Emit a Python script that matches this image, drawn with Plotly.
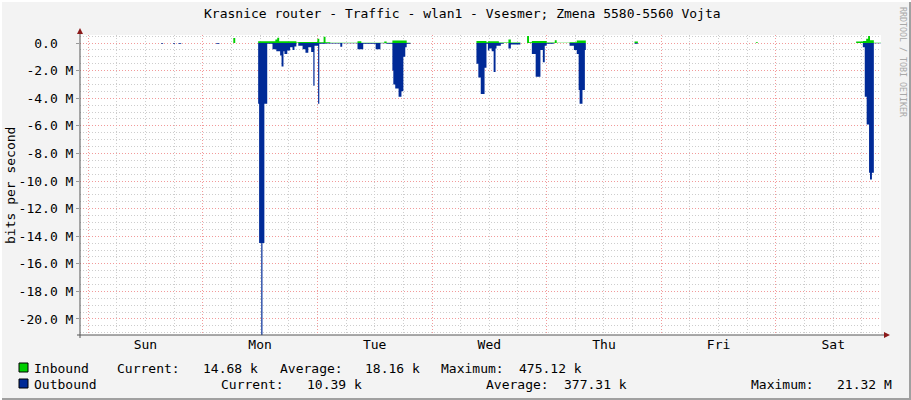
import plotly.graph_objects as go
import pandas as pd

# ---------------- data ----------------
BASE = pd.Timestamp("2024-01-07 00:00")  # a Sunday, 00:00
X_START_H = -1.7
X_END_H = 166.0

# Inbound, Mbit/s (step start times in hours since Sunday 00:00)
IN_T = [-1.7, 30.4, 30.8, 35.6, 39.2, 39.6, 40.0, 43.6, 44.0, 48.0, 48.4, 49.3, 49.7,
        50.7, 56.4, 57.2, 62.0, 62.5, 63.7, 66.7, 67.5, 81.3, 83.4, 83.7, 86.0, 88.0,
        88.5, 90.5, 91.9, 92.3, 92.9, 96.0, 97.7, 98.1, 100.8, 102.3, 104.2, 114.4,
        115.1, 139.8, 140.2, 160.8, 162.2, 162.9, 163.3, 163.7, 164.5, 166.0]
IN_V = [0.0, 0.36, 0.0, 0.12, 0.25, 0.38, 0.12, 0.03, 0.08, 0.30, 0.05, 0.45, 0.05,
        0.02, 0.12, 0.02, 0.10, 0.02, 0.18, 0.02, 0.0, 0.15, 0.05, 0.12, 0.03, 0.25,
        0.03, 0.0, 0.50, 0.05, 0.15, 0.03, 0.20, 0.02, 0.05, 0.18, 0.0, 0.10,
        0.0, 0.05, 0.0, 0.10, 0.15, 0.30, 0.50, 0.20, 0.0147, 0.0147]

# Outbound, Mbit/s (plotted below zero)
OUT_T = [-1.7, 15.3, 15.7, 17.8, 18.2, 18.9, 19.5, 26.8, 27.5,
         35.6, 35.8, 36.25, 36.5, 36.9, 37.5, 38.6, 39.4, 40.2, 40.5, 40.9, 41.1,
         41.7, 42.3, 42.8, 43.2, 43.6, 44.0, 44.9, 45.5, 46.1, 46.7, 47.15, 47.4,
         48.15, 48.4, 49.7, 52.8, 53.2, 56.4, 57.6, 60.2, 61.2, 62.5, 63.7, 63.9,
         64.3, 65.0, 65.6, 66.0, 66.4, 66.7, 67.5,
         81.3, 81.7, 82.2, 83.0, 83.4, 83.7, 84.0, 84.5, 84.9, 85.3, 85.5, 86.4,
         87.0, 88.0, 88.5, 90.5, 92.9, 93.7, 94.7, 95.2, 95.6, 96.0, 97.5,
         100.8, 101.7, 102.3, 102.7, 102.9, 103.5, 104.0, 104.2, 114.4, 115.1,
         162.2, 162.6, 163.0, 163.5, 163.7, 164.1, 164.5, 166.0]
OUT_V = [0.0, 0.06, 0.0, 0.05, 0.0, 0.06, 0.0, 0.06, 0.0,
         4.4, 14.5, 21.32, 14.5, 4.4, 0.05, 0.45, 0.6, 0.9, 1.7, 0.6, 0.8,
         0.55, 0.3, 0.5, 0.25, 0.0, 0.2, 0.45, 0.7, 0.3, 0.65, 3.1, 0.2,
         4.4, 0.05, 0.03, 0.27, 0.02, 0.45, 0.05, 0.45, 0.02, 0.05, 2.0, 3.0,
         3.3, 3.9, 3.5, 1.0, 0.3, 0.05, 0.0,
         1.5, 2.5, 3.7, 1.8, 0.05, 0.55, 0.4, 0.6, 2.1, 0.4, 0.2, 0.05,
         0.0, 0.4, 0.1, 0.0, 0.8, 2.45, 0.5, 1.4, 0.2, 0.05, 0.0,
         0.2, 0.5, 0.8, 3.4, 4.4, 3.4, 0.5, 0.0, 0.05, 0.0,
         0.3, 3.9, 5.9, 9.4, 9.9, 9.4, 0.0104, 0.0104]

DAY_FORMAT = "%a"
Y_TICK_VALS_M = [0, -2, -4, -6, -8, -10, -12, -14, -16, -18, -20]
Y_TICK_TEXT = ["0.0\u00a0\u00a0", "-2.0 M", "-4.0 M", "-6.0 M", "-8.0 M", "-10.0 M",
               "-12.0 M", "-14.0 M", "-16.0 M", "-18.0 M", "-20.0 M"]
Y_RANGE_M = [-21.16, 0.58]

TITLE = "Krasnice router - Traffic - wlan1 - Vsesmer; Zmena 5580-5560 Vojta"
Y_LABEL = "bits per second"
WATERMARK = "RRDTOOL / TOBI OETIKER"
SERIES_NAMES = ["Inbound", "Outbound"]
IN_STATS = ["14.68 k", "18.16 k", "475.12 k"]
OUT_STATS = ["10.39 k", "377.31 k", "21.32 M"]

GREEN = "#00CF00"
BLUE = "#002A97"
FONT = "DejaVu Sans Mono"

# ---------------- geometry helpers (pixel -> paper) ----------------
W, H = 911, 400
L, R, T, B = 80, 30, 35, 65
PW, PH = W - L - R, H - T - B


def px(x):
    return (x - L) / PW


def py(y):
    return (H - B - y) / PH


def to_time(hours):
    return [BASE + pd.Timedelta(hours=h) for h in hours]


fig = go.Figure()
fig.add_trace(go.Scatter(
    x=to_time(OUT_T), y=[-v * 1e6 for v in OUT_V], mode="lines",
    line=dict(shape="hv", width=0, color=BLUE), fill="tozeroy", fillcolor=BLUE,
    hoverinfo="skip", showlegend=False))
fig.add_trace(go.Scatter(
    x=to_time(IN_T), y=[v * 1e6 for v in IN_V], mode="lines",
    line=dict(shape="hv", width=0, color=GREEN), fill="tozeroy", fillcolor=GREEN,
    hoverinfo="skip", showlegend=False))

RED_GRID = "#F29A9A"
GRAY_GRID = "#CDCDCD"
DASH = "1px,2px"

fig.update_layout(
    width=W, height=H,
    margin=dict(l=L, r=R, t=T, b=B),
    paper_bgcolor="#F3F3F3", plot_bgcolor="#FFFFFF",
    font=dict(family=FONT, size=13, color="#000000"),
    showlegend=False,
    xaxis=dict(
        type="date",
        range=to_time([X_START_H, X_END_H]),
        tick0=BASE, dtick=86400000, tickformat=DAY_FORMAT, ticklabelmode="period",
        showgrid=True, gridcolor=RED_GRID, griddash=DASH, gridwidth=1,
        minor=dict(dtick=6 * 3600000, showgrid=True, gridcolor=GRAY_GRID,
                   griddash=DASH, gridwidth=1),
        ticks="", zeroline=False, showline=False, automargin=False,
        tickfont=dict(family=FONT, size=13),
    ),
    yaxis=dict(
        range=[v * 1e6 for v in Y_RANGE_M],
        tickmode="array", tickvals=[v * 1e6 for v in Y_TICK_VALS_M], ticktext=Y_TICK_TEXT,
        showgrid=True, gridcolor=RED_GRID, griddash=DASH, gridwidth=1,
        minor=dict(tick0=0, dtick=0.5e6, showgrid=True, gridcolor=GRAY_GRID,
                   griddash=DASH, gridwidth=1),
        ticks="outside", ticklen=3, tickcolor="#999999",
        zeroline=False, showline=False, automargin=False,
        tickfont=dict(family=FONT, size=13),
    ),
)

shapes = []
# axis lines
shapes.append(dict(type="line", xref="paper", yref="paper", x0=px(80), x1=px(80),
                   y0=py(338), y1=py(31), line=dict(color="#555555", width=1)))
shapes.append(dict(type="line", xref="paper", yref="paper", x0=px(77), x1=px(886),
                   y0=py(335), y1=py(335), line=dict(color="#555555", width=1)))
# arrows
shapes.append(dict(type="path", xref="paper", yref="paper",
                   path=f"M {px(80)},{py(28)} L {px(77)},{py(34)} L {px(83)},{py(34)} Z",
                   fillcolor="#8B1A1A", line=dict(width=0)))
shapes.append(dict(type="path", xref="paper", yref="paper",
                   path=f"M {px(890)},{py(335)} L {px(884)},{py(332)} L {px(884)},{py(338)} Z",
                   fillcolor="#8B1A1A", line=dict(width=0)))
# legend squares
for (y0, col) in [(363, GREEN), (379, BLUE)]:
    shapes.append(dict(type="rect", xref="paper", yref="paper",
                       x0=px(19), x1=px(28), y0=py(y0 + 9), y1=py(y0),
                       fillcolor=col, line=dict(color="#000000", width=1)))
# outer frame
shapes.append(dict(type="line", xref="paper", yref="paper", x0=px(0), x1=px(911),
                   y0=py(399), y1=py(399), line=dict(color="#A0A0A0", width=2)))
shapes.append(dict(type="line", xref="paper", yref="paper", x0=px(910), x1=px(910),
                   y0=py(0), y1=py(400), line=dict(color="#A0A0A0", width=2)))
shapes.append(dict(type="line", xref="paper", yref="paper", x0=px(0), x1=px(911),
                   y0=py(1), y1=py(1), line=dict(color="#FFFFFF", width=2)))
shapes.append(dict(type="line", xref="paper", yref="paper", x0=px(1), x1=px(1),
                   y0=py(0), y1=py(400), line=dict(color="#FFFFFF", width=2)))
fig.update_layout(shapes=shapes)

ann = []


def text(x, y, s, anchor="left", size=13, color="#000000", angle=0):
    ann.append(dict(x=px(x), y=py(y), xref="paper", yref="paper", text=s,
                    showarrow=False, xanchor=anchor, yanchor="middle",
                    textangle=angle, font=dict(family=FONT, size=size, color=color),
                    borderpad=0))


text(203, 14, TITLE)
text(10, 186, Y_LABEL, anchor="center", angle=-90)
text(903, 62, WATERMARK, anchor="center", size=8.3, color="#A8A8A8", angle=90)

# legend rows
text(33, 368, SERIES_NAMES[0])
text(116, 368, "Current:")
text(259, 368, IN_STATS[0], anchor="right")
text(279, 368, "Average:")
text(421, 368, IN_STATS[1], anchor="right")
text(440, 368, "Maximum:")
text(583, 368, IN_STATS[2], anchor="right")

text(33, 384, SERIES_NAMES[1])
text(220, 384, "Current:")
text(363, 384, OUT_STATS[0], anchor="right")
text(485, 384, "Average:")
text(628, 384, OUT_STATS[1], anchor="right")
text(750, 384, "Maximum:")
text(893, 384, OUT_STATS[2], anchor="right")

fig.update_layout(annotations=ann)

fig.write_html(
    "out.html",
    config={"displayModeBar": False, "staticPlot": True},
    post_script="document.body.style.margin='0px';document.body.style.padding='0px';",
)
